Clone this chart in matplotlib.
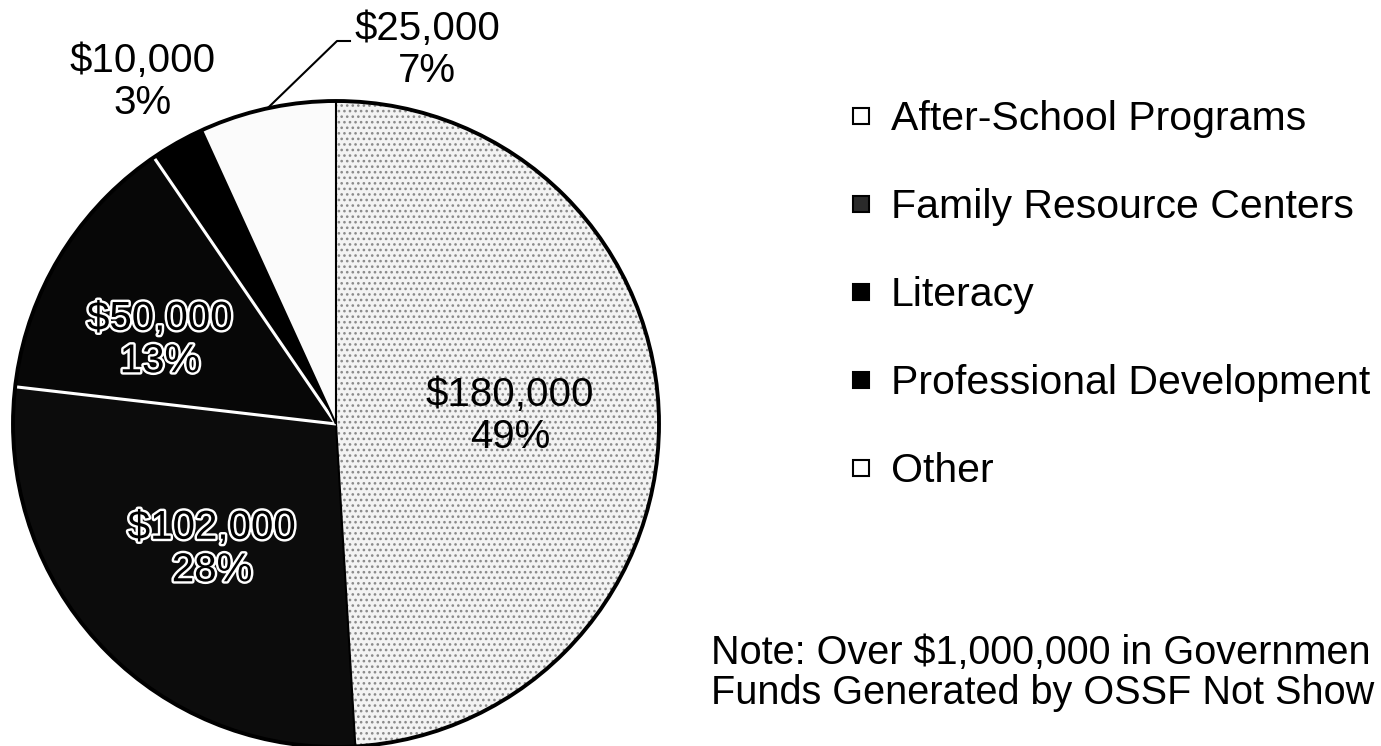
import matplotlib
matplotlib.use('Agg')
import numpy as np
import matplotlib.pyplot as plt
import matplotlib.patheffects as pe
from matplotlib.lines import Line2D
from matplotlib.patches import Circle

# chart data
categories = ['After-School Programs', 'Family Resource Centers', 'Literacy',
              'Professional Development', 'Other']
amounts = [180000, 102000, 50000, 10000, 25000]
pct_labels = [49, 28, 13, 3, 7]
# the note runs off the right edge in the source, only this much is visible
note_lines = ['Note: Over $1,000,000 in Governmen',
              'Funds Generated by OSSF Not Show']

colors = ['#f3f3f3', '#0c0c0c', '#070707', '#000000', '#fbfbfb']
legend_colors = ['#ffffff', '#2a2a2a', '#000000', '#000000', '#ffffff']
# colour of the split line drawn after each slice (clockwise)
split_colors = ['black', 'white', 'white', 'black', 'black']

plt.rcParams['font.family'] = ['Liberation Sans', 'DejaVu Sans']
plt.rcParams['hatch.color'] = '#8a8a8a'
plt.rcParams['hatch.linewidth'] = 1.1

W, H = 1381, 746
fig = plt.figure(figsize=(W / 100, H / 100), dpi=100)
ax = fig.add_axes([0, 0, 1, 1])

# pie geometry in pixel units (y measured from the top of the image)
cx, cy, r = 336, 424, 323
center = (cx, H - cy)

wedges, _ = ax.pie(amounts, colors=colors, startangle=90, counterclock=False,
                   radius=r, center=center)
wedges[0].set_hatch('...')

# split lines between slices
ends = 90 - 360 * np.cumsum(amounts) / np.sum(amounts)
for ang, col in zip(ends, split_colors):
    a = np.deg2rad(ang)
    ax.plot([center[0], center[0] + r * np.cos(a)],
            [center[1], center[1] + r * np.sin(a)],
            color=col, lw=2.2 if col == 'white' else 1.5,
            solid_capstyle='butt', zorder=3)

ax.add_patch(Circle(center, r, fill=False, ec='black', lw=2.8, zorder=4))

# slice labels
label_pos = [(510, 416), (212, 549), (160, 340), (143, 82), (427, 50)]
outlined = [False, True, True, False, False]
for amt, pct, (lx, ly), ol in zip(amounts, pct_labels, label_pos, outlined):
    t = ax.text(lx, H - ly, f'${amt:,}\n{pct}%', ha='center', va='center',
                fontsize=29, color='black', linespacing=1.15, zorder=5)
    if ol:
        t.set_path_effects([pe.withStroke(linewidth=3.5, foreground='white')])

# leader line for "Other"
mid = np.deg2rad((ends[3] + ends[4]) / 2)
sx, sy = center[0] + r * np.cos(mid), center[1] + r * np.sin(mid)
ax.plot([sx, 337, 350], [sy, H - 41, H - 41], color='black', lw=1.5, zorder=5)

ax.set_xlim(0, W)
ax.set_ylim(0, H)
ax.set_aspect('auto')
ax.axis('off')

# legend
handles = [Line2D([], [], marker='s', linestyle='none', markersize=11,
                  markerfacecolor=c, markeredgecolor='black', markeredgewidth=1.5)
           for c in legend_colors]
fig.legend(handles, categories, loc='upper left', bbox_to_anchor=(850 / W, 1 - 100 / H),
           frameon=False, fontsize=29.5, handlelength=0.55, handletextpad=0.45,
           labelspacing=1.22, borderpad=0, borderaxespad=0)

# note
ax.text(711, H - 653, note_lines[0], fontsize=28.5, va='center', ha='left')
ax.text(711, H - 693, note_lines[1], fontsize=28.5, va='center', ha='left')

fig.savefig('out.png', dpi=100)
